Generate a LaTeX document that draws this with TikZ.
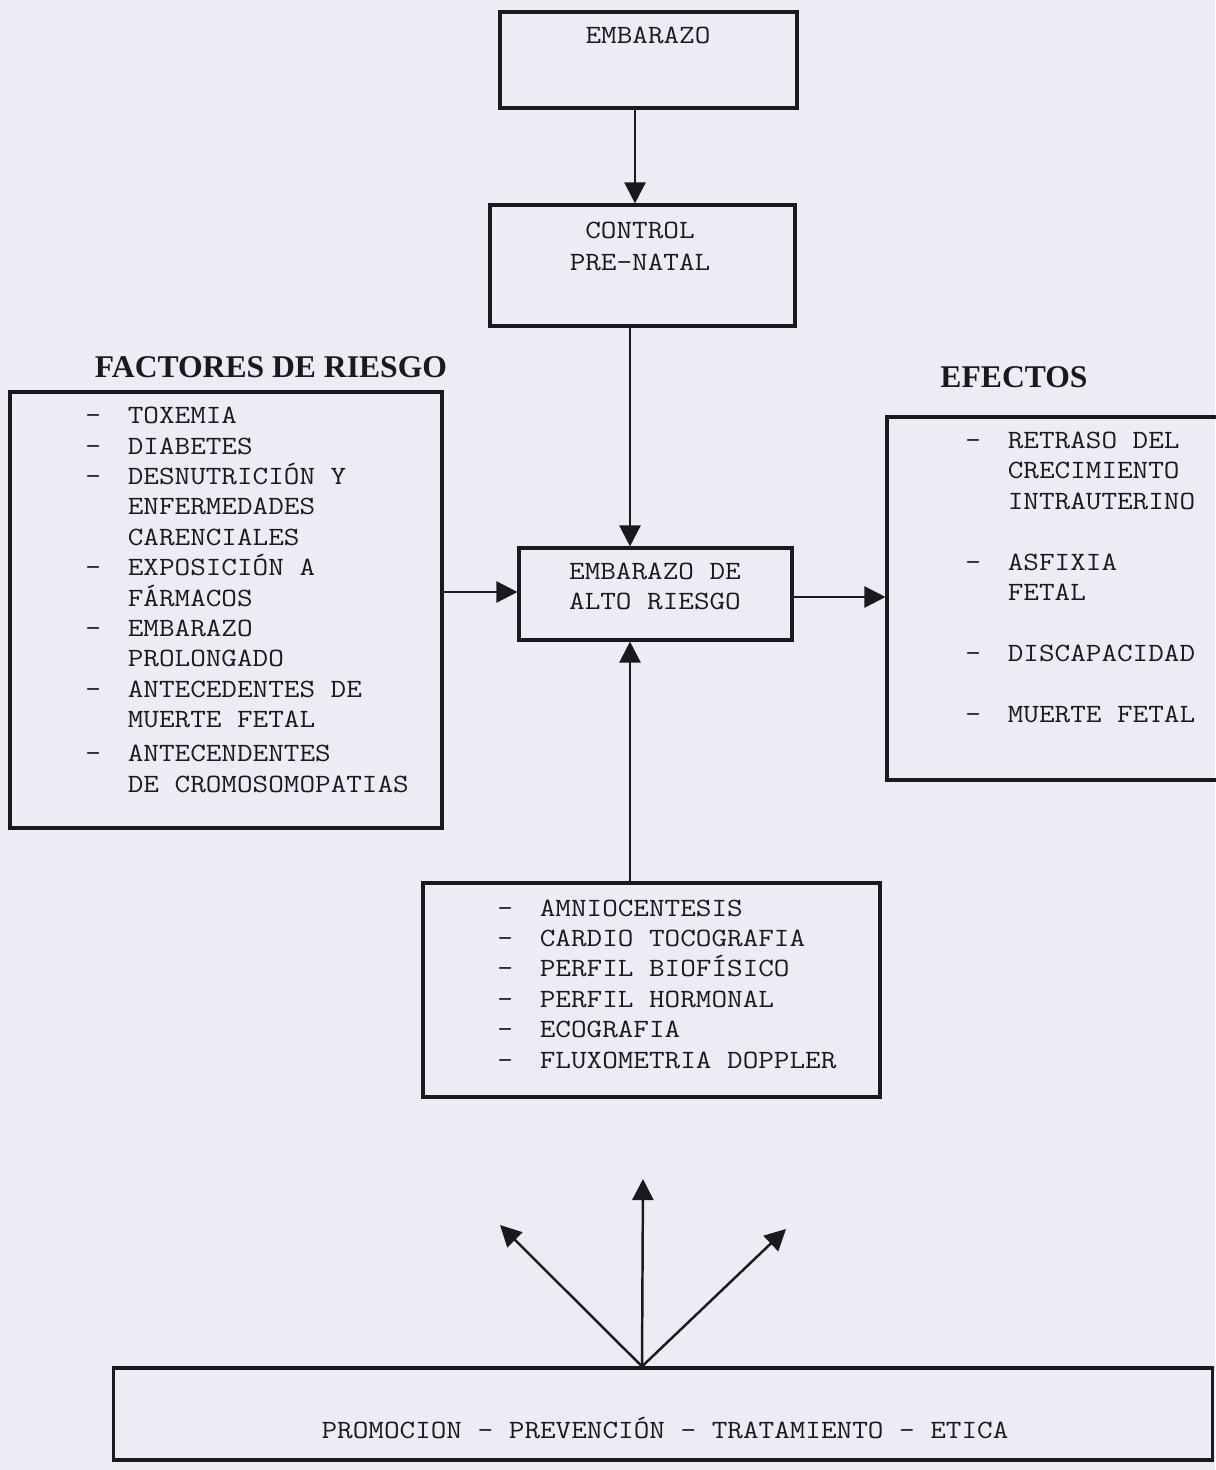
\documentclass[tikz,border=0pt]{standalone}
\usepackage{fontspec}
\setmainfont{Liberation Serif}
\setmonofont[FakeStretch=1.15]{Latin Modern Mono}
\usetikzlibrary{positioning,arrows.meta}

\definecolor{paper}{RGB}{236,236,244}
\definecolor{ink}{RGB}{25,25,30}

% dash and hanging indent for the lists
\newcommand\guion{\makebox[0.85cm][l]{\textendash}}
\newcommand\sangria{\hspace*{0.85cm}}

\begin{document}
\begin{tikzpicture}[
	x=0.02cm,y=-0.02cm,
	box/.style={
		draw=ink,line width=1.8pt,
		inner sep=0pt,
	},
	txt/.style={
		text=ink,
		font=\ttfamily\fontsize{15}{17.3}\selectfont,
		inner sep=0pt,
	},
	head/.style={
		text=ink,
		font=\bfseries\fontsize{18}{21}\selectfont,
		inner sep=0pt,
	},
	link/.style={
		draw=ink,line width=1.4pt,
		-{Triangle[length=12pt,width=12pt]},
	},
]

\useasboundingbox (0,0) rectangle (1215,1470);
\fill[paper] (0,0) rectangle (1215,1470);

% main column
\node [box,minimum width=5.94cm,minimum height=1.92cm] (emb) at (648.5,60) {};
\node [txt] (embt) at (648,35) {EMBARAZO};

\node [box,minimum width=6.1cm,minimum height=2.42cm] (ctrl) at (642.5,265.5) {};
\node [txt,align=center,font=\ttfamily\fontsize{15}{18.2}\selectfont] (ctrlt) at (640,246) {CONTROL\\PRE-NATAL};

\node [box,minimum width=5.46cm,minimum height=1.84cm] (alto) at (655.5,594) {};
\node [txt,align=center] (altot) at (655,586.5) {EMBARAZO DE\\ALTO RIESGO};

% risk factors
\node [box,minimum width=8.64cm,minimum height=8.72cm] (fact) at (226,610) {};
\node [head,above=0.24cm of fact.north,xshift=0.9cm] (facth) {FACTORES DE RIESGO};
\node [txt,align=left,anchor=base west] (factl) at (85,792) {
	\guion TOXEMIA\\
	\guion DIABETES\\
	\guion DESNUTRICIÓN Y\\
	\sangria ENFERMEDADES\\
	\sangria CARENCIALES\\
	\guion EXPOSICIÓN A\\
	\sangria FÁRMACOS\\
	\guion EMBARAZO\\
	\sangria PROLONGADO\\
	\guion ANTECEDENTES DE\\
	\sangria MUERTE FETAL\\[2pt]
	\guion ANTECENDENTES\\
	\sangria DE CROMOSOMOPATIAS
};

% effects
\node [box,minimum width=6.76cm,minimum height=7.26cm] (efec) at (1056,598.5) {};
\node [head,above=0.54cm of efec.north,xshift=-0.84cm] (efech) {EFECTOS};
\node [txt,align=left,anchor=base west] (efecl) at (965,722) {
	\guion RETRASO DEL\\
	\sangria CRECIMIENTO\\
	\sangria INTRAUTERINO\\[17.3pt]
	\guion ASFIXIA\\
	\sangria FETAL\\[17.3pt]
	\guion DISCAPACIDAD\\[17.3pt]
	\guion MUERTE FETAL
};

% techniques
\node [box,minimum width=9.14cm,minimum height=4.28cm] (tec) at (651.5,990) {};
\node [txt,align=left,anchor=base west] (tecl) at (497,1068) {
	\guion AMNIOCENTESIS\\
	\guion CARDIO TOCOGRAFIA\\
	\guion PERFIL BIOFÍSICO\\
	\guion PERFIL HORMONAL\\
	\guion ECOGRAFIA\\
	\guion FLUXOMETRIA DOPPLER
};

% bottom box
\node [box,minimum width=22cm,minimum height=1.84cm] (prom) at (663,1414) {};
\node [txt] (promt) at (665,1428) {PROMOCION \textendash{} PREVENCIÓN \textendash{} TRATAMIENTO \textendash{} ETICA};

% connectors
\coordinate (c1) at (635,0);
\coordinate (c2) at (630,0);
\coordinate (c3) at (0,592);
\coordinate (c4) at (0,597);
\draw [link] (c1 |- emb.south) -- (c1 |- ctrl.north);
\draw [link] (c2 |- ctrl.south) -- (c2 |- alto.north);
\draw [link] (c2 |- tec.north) -- (c2 |- alto.south);
\draw [link] (c3 -| fact.east) -- (c3 -| alto.west);
\draw [link] (c4 -| alto.east) -- (c4 -| efec.west);

% fan of arrows out of the bottom box
\coordinate (base) at (642,0);
\coordinate (f1) at (643,1179);
\coordinate (f2) at (500,1225);
\coordinate (f3) at (786,1229);
\foreach \tip in {f1,f2,f3}
	\draw [link] (base |- prom.north) -- (\tip);

\end{tikzpicture}
\end{document}
